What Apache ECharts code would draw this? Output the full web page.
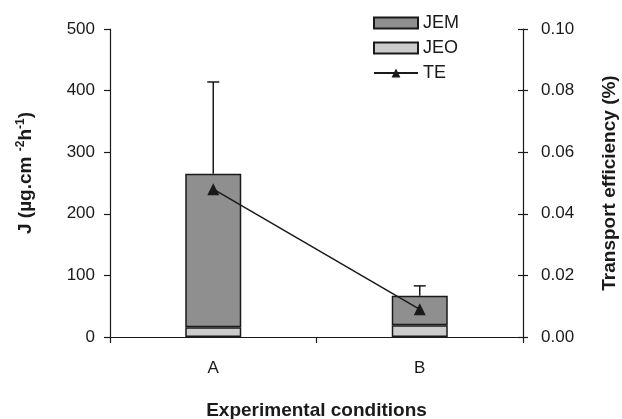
<!DOCTYPE html>
<html>
<head>
<meta charset="utf-8">
<script src="https://cdn.jsdelivr.net/npm/echarts@6/dist/echarts.min.js"></script>
<style>
  html, body { margin: 0; padding: 0; background: #fff; }
  #chart { width: 622px; height: 419px; }
</style>
</head>
<body>
<div id="chart"></div>
<script>
// Flux per experimental condition (µg.cm-2.h-1), stacked: JEO at the base, JEM on top
const categories = ['A', 'B'];
const jeo = [16, 19];
const jem = [249, 48];
// Upper standard deviation of the total flux
const totalSd = [149, 16];
// Transport efficiency (%)
const te = [0.048, 0.009];

const FONT = 'Liberation Sans, Arial, sans-serif';
const INK = '#1a1a1a';

const totals = categories.map((c, i) => jeo[i] + jem[i]);
const errData = categories.map((c, i) => [i, totals[i], totals[i] + totalSd[i]]);

const chart = echarts.init(document.getElementById('chart'), null, { renderer: 'canvas' });

const axisLine = { show: true, lineStyle: { color: INK, width: 1.2 } };
const tickStyle = { color: INK, width: 1.2 };
const tickFont = { fontFamily: FONT, fontSize: 17, color: INK };
const nameFont = { fontFamily: FONT, fontSize: 19, fontWeight: 'bold', color: INK };

chart.setOption({
  animation: false,
  textStyle: { fontFamily: FONT },
  grid: { left: 110, right: 99, top: 29, bottom: 82, containLabel: false, outerBoundsMode: 'none' },
  legend: {
    orient: 'vertical',
    left: 368,
    top: 9,
    itemWidth: 44,
    itemHeight: 11,
    itemGap: 7,
    textStyle: { fontFamily: FONT, fontSize: 18, color: INK },
    data: [
      { name: 'JEM', icon: 'rect' },
      { name: 'JEO', icon: 'rect' },
      { name: 'TE' }
    ]
  },
  xAxis: {
    type: 'category',
    data: categories,
    boundaryGap: true,
    axisLine: axisLine,
    axisTick: { show: true, length: 6, lineStyle: tickStyle },
    axisLabel: Object.assign({ margin: 23 }, tickFont),
    name: 'Experimental conditions',
    nameLocation: 'middle',
    nameGap: 64,
    nameTextStyle: nameFont
  },
  yAxis: [
    {
      type: 'value',
      min: 0, max: 500, interval: 100,
      position: 'left',
      splitLine: { show: false },
      axisLine: axisLine,
      axisTick: { show: true, length: 6, lineStyle: tickStyle },
      axisLabel: Object.assign({ margin: 15 }, tickFont),
      name: '{n|J (µg.cm }{s|-2}{n|h}{s|-1}{n|)}',
      nameLocation: 'middle',
      nameGap: 74,
      nameTextStyle: {
        padding: [0, 0, 0, 20],
        rich: {
          n: nameFont,
          s: { fontFamily: FONT, fontSize: 12, fontWeight: 'bold', color: INK, verticalAlign: 'top', padding: [0, 0, 9, 0] }
        }
      }
    },
    {
      type: 'value',
      min: 0, max: 0.10, interval: 0.02,
      position: 'right',
      splitLine: { show: false },
      axisLine: axisLine,
      axisTick: { show: true, length: 5, lineStyle: tickStyle },
      axisLabel: Object.assign({ margin: 18, formatter: v => v.toFixed(2) }, tickFont),
      name: 'Transport efficiency (%)',
      nameLocation: 'middle',
      nameGap: 77,
      nameTextStyle: nameFont
    },
    {
      // inner half of the crossing ticks on the right axis
      type: 'value',
      min: 0, max: 0.10, interval: 0.02,
      position: 'right',
      splitLine: { show: false },
      axisLine: { show: false },
      axisTick: { show: true, inside: true, length: 5, lineStyle: tickStyle },
      axisLabel: { show: false }
    }
  ],
  series: [
    {
      name: 'JEO',
      type: 'bar',
      stack: 'flux',
      yAxisIndex: 0,
      barWidth: 56,
      data: jeo,
      itemStyle: { color: '#cccccc', borderColor: INK, borderWidth: 1.5 },
      z: 2
    },
    {
      name: 'JEM',
      type: 'bar',
      stack: 'flux',
      yAxisIndex: 0,
      barWidth: 56,
      data: jem,
      itemStyle: { color: '#8f8f8f', borderColor: INK, borderWidth: 1.5 },
      z: 2
    },
    {
      name: 'SD',
      type: 'custom',
      yAxisIndex: 0,
      data: errData,
      encode: { x: 0, y: [1, 2] },
      z: 3,
      renderItem: function (params, api) {
        const base = api.coord([api.value(0), api.value(1)]);
        const top = api.coord([api.value(0), api.value(2)]);
        const half = 6;
        return {
          type: 'group',
          children: [
            { type: 'line', shape: { x1: base[0], y1: base[1], x2: top[0], y2: top[1] },
              style: { stroke: INK, lineWidth: 1.5 } },
            { type: 'line', shape: { x1: top[0] - half, y1: top[1], x2: top[0] + half, y2: top[1] },
              style: { stroke: INK, lineWidth: 1.5 } }
          ]
        };
      }
    },
    {
      name: 'TE',
      type: 'line',
      yAxisIndex: 1,
      data: te,
      symbol: 'triangle',
      symbolSize: 12,
      lineStyle: { color: INK, width: 1.5 },
      itemStyle: { color: INK },
      z: 4
    }
  ]
});
</script>
</body>
</html>
